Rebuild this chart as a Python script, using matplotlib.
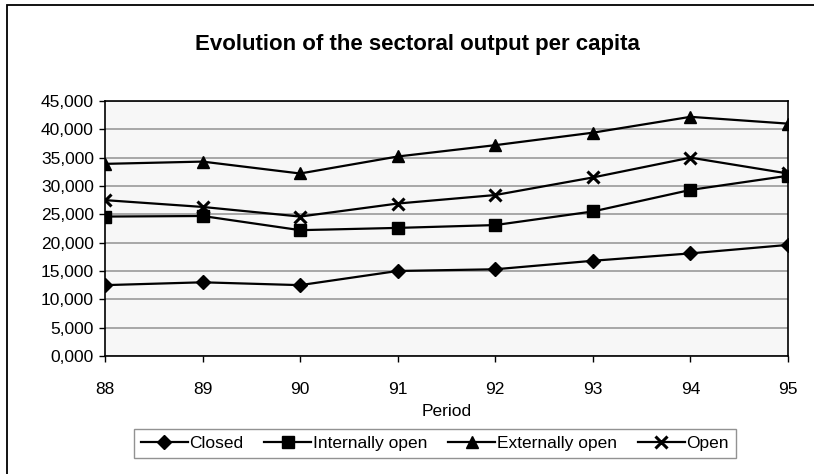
import numpy as np
import matplotlib
matplotlib.use('Agg')
import matplotlib.pyplot as plt
from matplotlib.ticker import FuncFormatter, MultipleLocator
from matplotlib.patches import Rectangle

plt.rcParams['font.family'] = ['Liberation Sans', 'DejaVu Sans']

periods = [88, 89, 90, 91, 92, 93, 94, 95]
closed = [12500, 13000, 12500, 15000, 15300, 16800, 18100, 19600]
internally_open = [24600, 24700, 22200, 22600, 23100, 25500, 29300, 31800]
externally_open = [33900, 34300, 32200, 35200, 37200, 39400, 42200, 41000]
open_ = [27500, 26300, 24600, 26900, 28400, 31500, 35000, 32200]

fig = plt.figure(figsize=(8.14, 4.74), dpi=100)
ax = fig.add_axes([0.129, 0.249, 0.839, 0.538])
ax.set_facecolor('#f7f7f7')

#series
ax.plot(periods, closed, color='black', lw=1.6, marker='D', ms=7, label='Closed')
ax.plot(periods, internally_open, color='black', lw=1.6, marker='s', ms=8, label='Internally open')
ax.plot(periods, externally_open, color='black', lw=1.6, marker='^', ms=9, label='Externally open')
ax.plot(periods, open_, color='black', lw=1.6, marker='x', ms=9, mew=2.2, label='Open')

ax.set_xlim(88, 95)
ax.set_ylim(0, 45000)
ax.yaxis.set_major_locator(MultipleLocator(5000))
ax.yaxis.set_major_formatter(FuncFormatter(lambda v, p: '%d,%03d' % (int(v) // 1000, int(v) % 1000)))
ax.set_xticks(periods)
ax.grid(axis='y', color='#9a9a9a', lw=1.2)
ax.set_axisbelow(True)
for s in ax.spines.values():
    s.set_linewidth(1.2)
ax.tick_params(labelsize=12.5, length=4, width=1)
ax.tick_params(axis='x', pad=15)
ax.tick_params(axis='y', pad=4)

ax.set_xlabel('Period', fontsize=12.5, labelpad=5)
fig.text(0.513, 0.907, 'Evolution of the sectoral output per capita', ha='center', va='center',
         fontsize=16, fontweight='bold')

ax.legend(loc='upper center', bbox_to_anchor=(0.483, -0.252), ncol=4, fontsize=12.5,
          frameon=True, fancybox=False, edgecolor='#777777', handlelength=2.7,
          handletextpad=0.1, columnspacing=1.2, borderpad=0.4)

#chart area frame
fig.patches.append(Rectangle((0.009, -0.1), 1.1, 1.089, transform=fig.transFigure,
                             fill=False, edgecolor='black', lw=1.3))

fig.savefig('out.png', dpi=100)
